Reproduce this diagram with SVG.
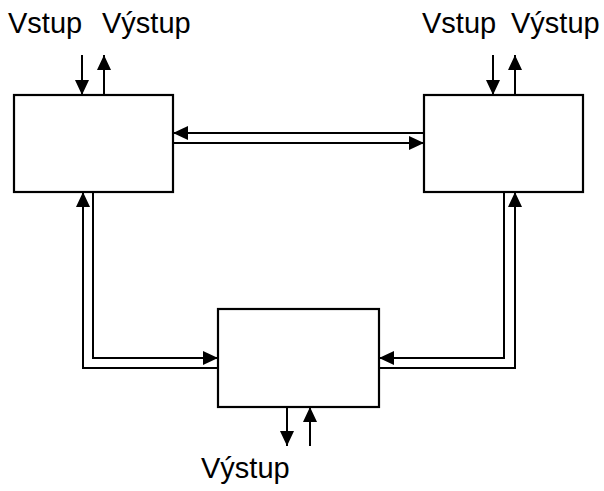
<svg xmlns="http://www.w3.org/2000/svg" width="604" height="491" viewBox="0 0 604 491">
<style>
.box{fill:#fff;stroke:#000;stroke-width:2.2}
.con{fill:none;stroke:#000;stroke-width:2;marker-end:url(#ah)}
.lbl{font-family:"Liberation Sans",Arial,sans-serif;font-size:29px;fill:#000}
</style>
<defs>
<marker id="ah" markerUnits="userSpaceOnUse" markerWidth="15" markerHeight="14" refX="15" refY="7" orient="auto">
<path d="M0,0 L15,7 L0,14 z" fill="#000"/>
</marker>
</defs>
<rect width="604" height="491" fill="#fff"/>
<g id="connectors">
<path class="con" d="M424,133 H173"/>
<path class="con" d="M173,143 H424"/>
<path class="con" d="M93,192 V358 H218"/>
<path class="con" d="M218,368 H83 V192"/>
<path class="con" d="M504,192 V358 H379"/>
<path class="con" d="M379,368 H515 V192"/>
<path class="con" d="M82,55 V95"/>
<path class="con" d="M104,95 V55"/>
<path class="con" d="M493,55 V95"/>
<path class="con" d="M515,95 V55"/>
<path class="con" d="M287,407 V446"/>
<path class="con" d="M310,446 V407"/>
</g>
<g id="node1"><rect class="box" x="14" y="95" width="159" height="97"/></g>
<g id="node2"><rect class="box" x="424" y="95" width="159" height="97"/></g>
<g id="node3"><rect class="box" x="218" y="309" width="161" height="98"/></g>
<g id="labels">
<text class="lbl" x="8" y="33">Vstup</text>
<text class="lbl" x="102" y="33">Výstup</text>
<text class="lbl" x="422" y="33">Vstup</text>
<text class="lbl" x="511" y="33">Výstup</text>
<text class="lbl" x="201" y="478">Výstup</text>
</g>
</svg>
